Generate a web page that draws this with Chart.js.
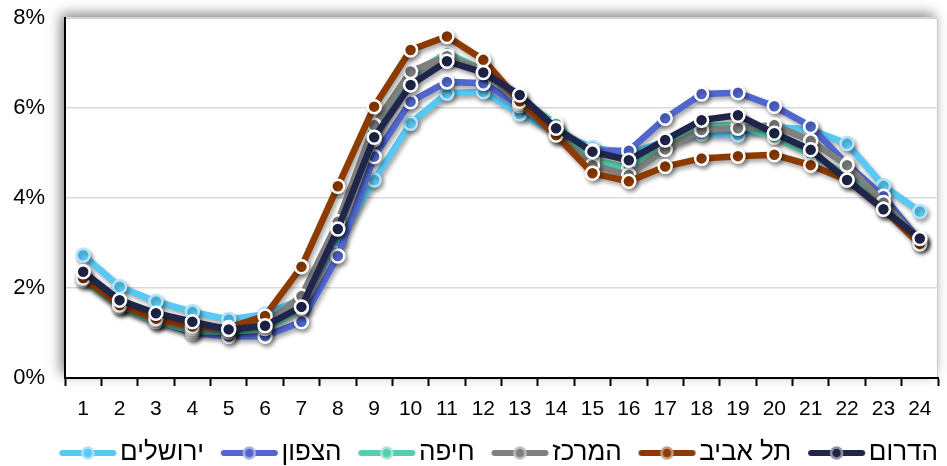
<!DOCTYPE html>
<html>
<head>
<meta charset="utf-8">
<script src="https://cdn.jsdelivr.net/npm/chart.js@4/dist/chart.umd.min.js"></script>
<style>
  html, body { margin: 0; padding: 0; background: #ffffff; }
  #wrap { width: 947px; height: 466px; position: relative; }
</style>
</head>
<body>
<div id="wrap"><canvas id="c"></canvas></div>
<script>
const hours = ['1','2','3','4','5','6','7','8','9','10','11','12','13','14','15','16','17','18','19','20','21','22','23','24'];
const yTicks = [0, 2, 4, 6, 8];

const seriesNames = ['הדרום', 'תל אביב', 'המרכז', 'חיפה', 'הצפון', 'ירושלים'];

const south    = [2.36, 1.73, 1.44, 1.25, 1.08, 1.16, 1.58, 3.31, 5.35, 6.51, 7.04, 6.79, 6.29, 5.55, 5.03, 4.84, 5.29, 5.73, 5.84, 5.44, 5.07, 4.40, 3.75, 3.10];
const telAviv  = [2.22, 1.62, 1.32, 1.15, 1.12, 1.38, 2.47, 4.26, 6.03, 7.29, 7.59, 7.07, 6.15, 5.40, 4.55, 4.37, 4.70, 4.88, 4.93, 4.96, 4.73, 4.40, 3.75, 2.98];
const center   = [2.25, 1.62, 1.30, 1.10, 1.08, 1.20, 1.82, 3.47, 5.62, 6.81, 7.15, 6.85, 6.10, 5.40, 4.73, 4.51, 5.08, 5.51, 5.55, 5.62, 5.27, 4.73, 3.90, 3.05];
const haifa    = [2.18, 1.58, 1.25, 1.05, 1.02, 1.10, 1.55, 3.35, 5.30, 6.75, 7.22, 6.85, 6.20, 5.65, 4.85, 4.67, 5.25, 5.60, 5.62, 5.35, 4.98, 4.50, 3.85, 3.05];
const north    = [2.30, 1.65, 1.28, 1.00, 0.92, 0.93, 1.25, 2.71, 4.92, 6.14, 6.58, 6.55, 6.05, 5.50, 5.05, 5.05, 5.77, 6.31, 6.34, 6.04, 5.59, 4.75, 4.04, 3.05];
const jerusalem= [2.73, 2.03, 1.70, 1.47, 1.30, 1.42, 1.75, 3.05, 4.40, 5.66, 6.33, 6.36, 5.87, 5.47, 5.12, 5.00, 5.25, 5.42, 5.40, 5.58, 5.52, 5.21, 4.27, 3.70];

const seriesValues = [south, telAviv, center, haifa, north, jerusalem];
const colors  = ['#20264B', '#8E3B02', '#808080', '#56CDAE', '#5067CF', '#58C8F4'];
const rings   = ['#ffffff', '#ffffff', '#ffffff', '#ffffff', '#ffffff', '#B5E4FA'];
const legendRings = ['#9092A5', '#C69D80', '#C0C0C0', '#AAE6D6', '#A7B3E7', '#ABE3FA'];

// legend marker image: line + dot, shifted so the marker hugs its label
function makeMarker(color, ring) {
  const c = document.createElement('canvas');
  c.width = 78; c.height = 18;
  const x = c.getContext('2d');
  const off = 20;
  x.strokeStyle = color;
  x.lineWidth = 6;
  x.lineCap = 'round';
  x.beginPath(); x.moveTo(off + 3, 9); x.lineTo(off + 54, 9); x.stroke();
  x.beginPath(); x.arc(off + 28.5, 9, 5.5, 0, Math.PI * 2);
  x.fillStyle = color; x.fill();
  x.lineWidth = 2.5; x.strokeStyle = ring; x.stroke();
  return c;
}
const markers = colors.map((c, i) => makeMarker(c, legendRings[i]));

const datasets = seriesNames.map((name, i) => ({
  label: name,
  data: seriesValues[i],
  borderColor: colors[i],
  backgroundColor: colors[i],
  borderWidth: 6.5,
  pointRadius: 6.5,
  pointHoverRadius: 6.5,
  pointBorderWidth: 2.5,
  pointBackgroundColor: colors[i],
  pointBorderColor: rings[i],
  tension: 0,
  fill: false
}));

const plotBg = {
  id: 'plotBg',
  beforeDraw(chart) {
    const {ctx, chartArea: a} = chart;
    ctx.save();
    ctx.shadowColor = 'rgba(0,0,0,0.5)';
    ctx.shadowBlur = 12;
    ctx.shadowOffsetX = -4;
    ctx.shadowOffsetY = -4;
    ctx.fillStyle = '#ffffff';
    ctx.fillRect(a.left, a.top, a.right - a.left, a.bottom - a.top);
    ctx.restore();
    ctx.save();
    ctx.strokeStyle = '#c8c8c8';
    ctx.lineWidth = 1;
    ctx.strokeRect(a.left + 0.5, a.top + 0.5, a.right - a.left - 1, a.bottom - a.top);
    ctx.restore();
  }
};

const lineShadow = {
  id: 'lineShadow',
  beforeDatasetDraw(chart) {
    const ctx = chart.ctx;
    ctx.save();
    ctx.shadowColor = 'rgba(0,0,0,0.35)';
    ctx.shadowBlur = 4;
    ctx.shadowOffsetX = 2;
    ctx.shadowOffsetY = 3;
  },
  afterDatasetDraw(chart) {
    chart.ctx.restore();
  }
};

new Chart(document.getElementById('c'), {
  type: 'line',
  data: { labels: hours, datasets },
  plugins: [plotBg, lineShadow],
  options: {
    responsive: true,
    maintainAspectRatio: false,
    animation: false,
    layout: { padding: { top: 18, right: 2, left: 0, bottom: -10 } },
    plugins: {
      tooltip: { enabled: false },
      legend: {
        position: 'bottom',
        align: 'end',
        reverse: true,
        labels: {
          usePointStyle: true,
          pointStyleWidth: 57.5,
          padding: 7,
          color: '#000000',
          font: { family: '"Liberation Sans", Arial, sans-serif', size: 26 },
          generateLabels(chart) {
            const items = Chart.defaults.plugins.legend.labels.generateLabels(chart);
            items.forEach(it => { it.pointStyle = markers[it.datasetIndex]; });
            return items;
          }
        }
      }
    },
    scales: {
      x: {
        type: 'category',
        offset: true,
        afterFit(scale) { scale.height = 55; scale.paddingLeft = 0; scale.paddingRight = 0; },
        border: { display: true, color: '#000000', width: 2 },
        grid: {
          offset: true,
          drawOnChartArea: false,
          drawTicks: true,
          tickLength: 8,
          color: '#000000',
          tickWidth: 2
        },
        ticks: {
          color: '#000000',
          padding: 11,
          maxRotation: 0,
          autoSkip: false,
          font: { family: '"Liberation Sans", Arial, sans-serif', size: 21 }
        }
      },
      y: {
        min: 0,
        max: 8,
        afterFit(scale) { scale.width = 65; scale.paddingTop = 0; scale.paddingBottom = 0; },
        afterBuildTicks(scale) { scale.ticks = yTicks.map(v => ({ value: v })); },
        border: { display: true, color: '#000000', width: 2 },
        grid: { color: '#d9d9d9', lineWidth: 1.5, drawTicks: false },
        ticks: {
          color: '#000000',
          padding: 20,
          font: { family: '"Liberation Sans", Arial, sans-serif', size: 22 },
          callback: v => v + '%'
        }
      }
    }
  }
});
</script>
</body>
</html>
